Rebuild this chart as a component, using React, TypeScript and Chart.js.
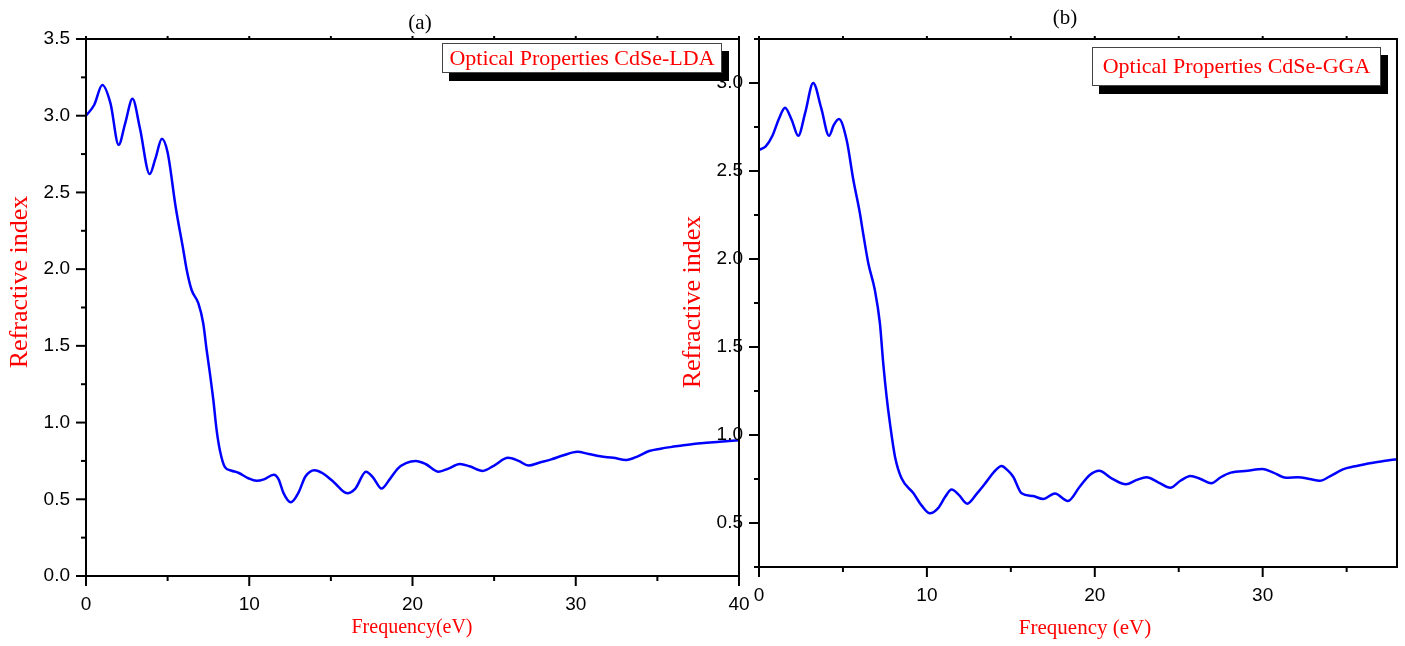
import React, { useEffect, useRef } from 'react';
import { Chart, registerables } from 'chart.js';

Chart.register(...registerables);

// ---------- Data ----------
const energyLDA = [
  0, 0.5, 1.0, 1.5, 2.0, 2.4, 2.85, 3.3, 3.9, 4.25, 4.65, 5.0, 5.5, 5.96, 6.17, 6.47, 6.88, 7.18, 7.39,
  7.59, 7.8, 8.0, 8.2, 8.51, 8.92, 9.33, 9.94, 10.45, 10.9, 11.5, 11.8, 12.1, 12.55, 13.0, 13.45, 14.0,
  14.5, 15.2, 16.0, 16.5, 17.15, 17.6, 18.1, 18.6, 19.1, 19.6, 20.2, 20.8, 21.6, 22.2, 22.9, 23.5, 24.3,
  25.0, 25.85, 26.5, 27.1, 27.8, 28.5, 29.2, 30.1, 30.8, 31.5, 32.3, 33.1, 33.8, 34.5, 35.2, 35.8, 36.5,
  37.2, 38.0, 38.8, 40.0,
];
const indexLDA = [
  3.0, 3.07, 3.2, 3.08, 2.81, 2.95, 3.11, 2.92, 2.62, 2.72, 2.85, 2.76, 2.4, 2.125, 1.995, 1.864, 1.778,
  1.647, 1.473, 1.321, 1.147, 0.952, 0.82, 0.71, 0.686, 0.673, 0.637, 0.62, 0.63, 0.66, 0.63, 0.54, 0.48,
  0.54, 0.65, 0.69, 0.67, 0.61, 0.54, 0.57, 0.68, 0.64, 0.57, 0.63, 0.7, 0.735, 0.75, 0.73, 0.68, 0.7,
  0.73, 0.715, 0.685, 0.72, 0.77, 0.75, 0.72, 0.74, 0.76, 0.785, 0.81, 0.795, 0.78, 0.77, 0.756, 0.78,
  0.815, 0.83, 0.84, 0.85, 0.86, 0.868, 0.875, 0.885,
];

const energyGGA = [
  0, 0.4, 0.8, 1.2, 1.55, 1.95, 2.34, 2.75, 3.23, 3.7, 4.17, 4.45, 4.76, 5.22, 5.62, 6.01, 6.17, 6.51,
  6.9, 7.2, 7.4, 7.6, 7.8, 8.1, 8.49, 9.19, 9.68, 10.18, 10.67, 11.1, 11.47, 11.9, 12.4, 13.0, 13.55,
  14.0, 14.45, 14.8, 15.14, 15.64, 16.33, 16.92, 17.62, 18.4, 19.1, 19.7, 20.26, 21.0, 21.85, 22.5,
  23.08, 23.8, 24.5, 25.1, 25.7, 26.3, 26.95, 27.5, 28.1, 29.1, 29.98, 30.6, 31.4, 32.1, 32.8, 33.4,
  34.0, 34.78, 35.5, 36.37, 37.2, 38.0,
];
const indexGGA = [
  2.62, 2.64, 2.7, 2.8, 2.86, 2.79, 2.7, 2.83, 3.0, 2.86, 2.7, 2.76, 2.795, 2.676, 2.449, 2.26, 2.165,
  1.976, 1.824, 1.635, 1.407, 1.218, 1.066, 0.877, 0.754, 0.67, 0.6, 0.555, 0.585, 0.65, 0.69, 0.66, 0.61,
  0.67, 0.735, 0.79, 0.824, 0.8, 0.763, 0.669, 0.653, 0.636, 0.668, 0.625, 0.706, 0.773, 0.797, 0.754,
  0.72, 0.745, 0.76, 0.73, 0.7, 0.74, 0.767, 0.75, 0.726, 0.76, 0.786, 0.797, 0.807, 0.788, 0.757, 0.76,
  0.75, 0.74, 0.765, 0.805, 0.822, 0.84, 0.852, 0.862,
];

const SANS = "'Liberation Sans', Arial, sans-serif";
const SERIF = "'Liberation Serif', 'Times New Roman', serif";

type Panel = {
  x: number[];
  y: number[];
  xMin: number;
  xMax: number;
  yMin: number;
  yMax: number;
  width: number;
  left: number;
  padRight: number;
  yWidth: number;
  xHeight: number;
  panelLabel: string;
  panelLabelPos: [number, number];
  legendText: string;
  legendBox: [number, number, number, number];
  yTitlePos: [number, number];
  xTitle: string;
  xTitlePos: [number, number];
  xTitleSize: number;
};

const panels: Panel[] = [
  {
    x: energyLDA, y: indexLDA, xMin: 0, xMax: 40, yMin: 0, yMax: 3.5,
    width: 790, left: 0, padRight: 51, yWidth: 86, xHeight: 70,
    panelLabel: '(a)', panelLabelPos: [420, 23],
    legendText: 'Optical Properties CdSe-LDA', legendBox: [442, 43, 280, 30],
    yTitlePos: [20, 282],
    xTitle: 'Frequency(eV)', xTitlePos: [412, 628], xTitleSize: 20,
  },
  {
    x: energyGGA, y: indexGGA, xMin: 0, xMax: 38, yMin: 0.25, yMax: 3.25,
    width: 725, left: 680, padRight: 8, yWidth: 79, xHeight: 79,
    panelLabel: '(b)', panelLabelPos: [385, 18],
    legendText: 'Optical Properties CdSe-GGA', legendBox: [412, 47, 289, 39],
    yTitlePos: [13, 302],
    xTitle: 'Frequency (eV)', xTitlePos: [405, 628], xTitleSize: 21,
  },
];

const isMult = (v: number, step: number) => Math.abs(v / step - Math.round(v / step)) < 1e-9;

function decorPlugin(p: Panel) {
  return {
    id: 'decor',
    afterDraw(chart: any) {
      const { ctx, chartArea: ca, scales } = chart;
      const xs = scales.x;
      const ys = scales.y;
      ctx.save();
      ctx.strokeStyle = '#000';
      ctx.lineWidth = 2;
      ctx.strokeRect(ca.left, ca.top, ca.right - ca.left, ca.bottom - ca.top);
      const line = (x1: number, y1: number, x2: number, y2: number) => {
        ctx.beginPath();
        ctx.moveTo(x1, y1);
        ctx.lineTo(x2, y2);
        ctx.stroke();
      };
      ys.ticks.forEach((t: any) => {
        const py = ys.getPixelForValue(t.value);
        const len = isMult(t.value, 0.5) ? 10 : 5;
        line(ca.left - len, py, ca.left, py);
      });
      xs.ticks.forEach((t: any) => {
        const px = xs.getPixelForValue(t.value);
        const len = isMult(t.value, 10) ? 10 : 5;
        line(px, ca.bottom, px, ca.bottom + len);
        line(px, ca.top, px, ca.top - 3);
      });

      // panel label
      ctx.textAlign = 'center';
      ctx.textBaseline = 'middle';
      ctx.fillStyle = '#000';
      ctx.font = `21px ${SERIF}`;
      ctx.fillText(p.panelLabel, p.panelLabelPos[0], p.panelLabelPos[1]);

      // legend box with shadow
      const [bx, by, bw, bh] = p.legendBox;
      ctx.fillStyle = '#000';
      ctx.fillRect(bx + 7, by + 8, bw, bh);
      ctx.fillStyle = '#fff';
      ctx.fillRect(bx, by, bw, bh);
      ctx.strokeStyle = '#444';
      ctx.lineWidth = 1;
      ctx.strokeRect(bx + 0.5, by + 0.5, bw - 1, bh - 1);
      ctx.fillStyle = '#ff0000';
      ctx.font = `22px ${SERIF}`;
      ctx.fillText(p.legendText, bx + bw / 2, by + bh / 2 + 1);

      // axis titles
      ctx.font = `${p.xTitleSize}px ${SERIF}`;
      ctx.fillText(p.xTitle, p.xTitlePos[0], p.xTitlePos[1]);
      ctx.save();
      ctx.translate(p.yTitlePos[0], p.yTitlePos[1]);
      ctx.rotate(-Math.PI / 2);
      ctx.font = `26px ${SERIF}`;
      ctx.fillText('Refractive index', 0, 0);
      ctx.restore();

      ctx.restore();
    },
  };
}

function PanelChart({ p }: { p: Panel }) {
  const ref = useRef<HTMLCanvasElement | null>(null);
  useEffect(() => {
    if (!ref.current) return;
    const data = p.x.map((xv, i) => ({ x: xv, y: p.y[i] }));
    const chart = new Chart(ref.current, {
      type: 'line',
      data: {
        datasets: [
          {
            data,
            borderColor: '#0000ff',
            borderWidth: 2.5,
            pointRadius: 0,
            fill: false,
            cubicInterpolationMode: 'monotone',
          },
        ],
      },
      options: {
        animation: false,
        responsive: false,
        devicePixelRatio: 1,
        layout: { padding: { left: 0, top: 39, right: p.padRight, bottom: 0 } },
        plugins: { legend: { display: false }, tooltip: { enabled: false }, title: { display: false } },
        scales: {
          x: {
            type: 'linear',
            min: p.xMin,
            max: p.xMax,
            afterFit: (s: any) => { s.height = p.xHeight; },
            grid: { display: false, drawTicks: false },
            border: { display: false },
            ticks: {
              stepSize: 5,
              includeBounds: false,
              maxRotation: 0,
              autoSkip: false,
              padding: 17,
              color: '#000',
              font: { family: SANS, size: 19 },
              callback: (v: any) => (isMult(Number(v), 10) ? String(v) : ''),
            },
          },
          y: {
            type: 'linear',
            min: p.yMin,
            max: p.yMax,
            afterFit: (s: any) => { s.width = p.yWidth; },
            grid: { display: false, drawTicks: false },
            border: { display: false },
            ticks: {
              stepSize: 0.25,
              autoSkip: false,
              padding: 16,
              color: '#000',
              font: { family: SANS, size: 19 },
              callback: (v: any) => (isMult(Number(v), 0.5) ? Number(v).toFixed(1) : ''),
            },
          },
        },
      },
      plugins: [decorPlugin(p)],
    } as any);
    return () => chart.destroy();
  }, [p]);
  return (
    <canvas
      ref={ref}
      width={p.width}
      height={646}
      style={{ position: 'absolute', left: p.left, top: 0, width: p.width, height: 646 }}
    />
  );
}

export default function App() {
  return (
    <div style={{ position: 'absolute', left: 0, top: 0, width: 1405, height: 646, background: '#fff', overflow: 'hidden' }}>
      {panels.map((p, i) => (
        <PanelChart key={i} p={p} />
      ))}
    </div>
  );
}
